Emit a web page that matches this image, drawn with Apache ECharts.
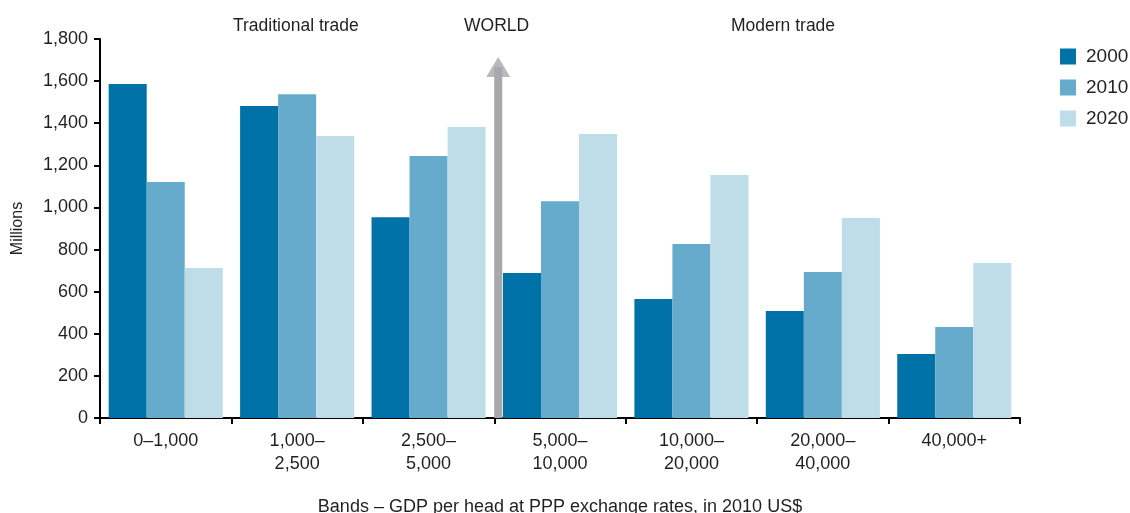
<!DOCTYPE html>
<html>
<head>
<meta charset="utf-8">
<script src="https://cdn.jsdelivr.net/npm/echarts@6/dist/echarts.min.js"></script>
<style>
  html, body { margin: 0; padding: 0; background: #fff; }
  #chart { width: 1130px; height: 513px; }
</style>
</head>
<body>
<div id="chart"></div>
<script>
// GDP-per-head bands (2010 US$, PPP) and population in each band, millions
const bands = ['0\u20131,000', '1,000\u2013\n2,500', '2,500\u2013\n5,000', '5,000\u2013\n10,000',
               '10,000\u2013\n20,000', '20,000\u2013\n40,000', '40,000+'];
const pop2000 = [1586, 1482, 954, 689, 565, 508, 304];
const pop2010 = [1121, 1538, 1244, 1030, 826, 693, 432];
const pop2020 = [712, 1339, 1382, 1349, 1154, 950, 736];
const yearNames = ['2000', '2010', '2020'];
const yTicks = [0, 200, 400, 600, 800, 1000, 1200, 1400, 1600, 1800];

// The WORLD arrow sits on the border between the 2,500–5,000 and 5,000–10,000 bands
const worldArrowX = 3.03;
const worldArrowTop = 1667;

const FONT = '"Liberation Sans", Arial, Helvetica, sans-serif';
const INK = '#231f20';
const colors = ['#0072a7', '#66abcb', '#bedde8'];

const chart = echarts.init(document.getElementById('chart'), null, { renderer: 'canvas' });

const barSeries = [pop2000, pop2010, pop2020].map((vals, i) => ({
  name: yearNames[i],
  type: 'bar',
  data: vals,
  xAxisIndex: 0,
  barGap: '0%',
  barCategoryGap: '13.2%',
  itemStyle: { color: colors[i] },
  emphasis: { disabled: true }
}));

chart.setOption({
  animation: false,
  textStyle: { fontFamily: FONT, color: INK },
  color: colors,
  grid: { left: 100, right: 110, top: 39, bottom: 95, containLabel: false, outerBoundsMode: 'none' },
  legend: {
    orient: 'vertical',
    left: 1055, top: 42,
    itemWidth: 16, itemHeight: 16, itemGap: 12,
    icon: 'rect',
    textStyle: { fontSize: 19, color: INK, fontFamily: FONT, padding: [0, 0, 0, 5] },
    data: yearNames
  },
  xAxis: [{
    type: 'category',
    data: bands,
    boundaryGap: true,
    axisLine: { lineStyle: { color: '#000', width: 2 } },
    axisTick: { show: true, length: 6, lineStyle: { color: '#000', width: 2 }, alignWithLabel: false },
    axisLabel: { fontSize: 18, color: INK, lineHeight: 23, margin: 12, fontFamily: FONT, interval: 0 },
    name: 'Bands \u2013 GDP per head at PPP exchange rates, in 2010 US$',
    nameLocation: 'middle',
    nameGap: 80,
    nameTextStyle: { fontSize: 18, color: INK, fontFamily: FONT }
  }, {
    type: 'value',
    min: 0, max: bands.length,
    show: false
  }],
  yAxis: {
    type: 'value',
    min: 0, max: 1800, interval: 200,
    axisLine: { show: true, lineStyle: { color: '#000', width: 2 } },
    axisTick: { show: true, length: 6, lineStyle: { color: '#000', width: 2 } },
    splitLine: { show: false },
    axisLabel: {
      fontSize: 18, color: INK, margin: 12, fontFamily: FONT,
      formatter: v => yTicks.includes(v) ? v.toLocaleString('en-US') : ''
    },
    name: 'Millions',
    nameLocation: 'middle',
    nameRotate: 90,
    nameGap: 74,
    nameTextStyle: { fontSize: 16, color: INK, fontFamily: FONT }
  },
  series: [
    ...barSeries,
    {
      // arrow shaft
      type: 'line',
      xAxisIndex: 1,
      data: [[worldArrowX, 0], [worldArrowX, worldArrowTop]],
      symbol: 'none',
      lineStyle: { color: '#a7a8ab', width: 8, cap: 'butt' },
      silent: true, z: 3
    },
    {
      // arrow head
      type: 'scatter',
      xAxisIndex: 1,
      data: [[worldArrowX, worldArrowTop]],
      symbol: 'triangle',
      symbolSize: [24, 20],
      itemStyle: { color: '#a7a8ab' },
      silent: true, z: 3
    }
  ],
  graphic: [
    { type: 'text', left: 233, top: 17, style: { text: 'Traditional trade', font: '17.5px ' + FONT, fill: INK } },
    { type: 'text', left: 464, top: 17, style: { text: 'WORLD', font: '17.5px ' + FONT, fill: INK } },
    { type: 'text', left: 731, top: 17, style: { text: 'Modern trade', font: '17.5px ' + FONT, fill: INK } }
  ]
});
</script>
</body>
</html>
